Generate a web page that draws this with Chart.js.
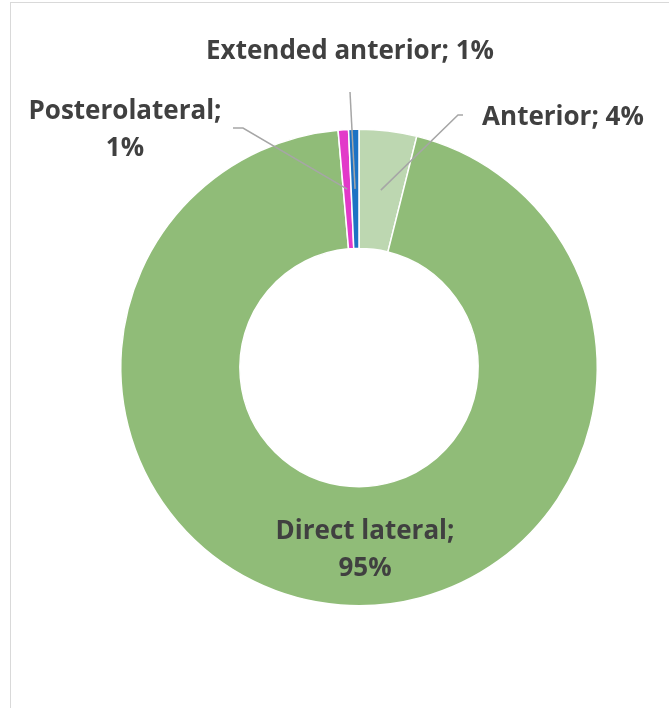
<!DOCTYPE html>
<html>
<head>
<meta charset="utf-8">
<script src="https://cdn.jsdelivr.net/npm/chart.js@4"></script>
<style>
  html, body { margin: 0; padding: 0; background: #fff; }
  #wrap { width: 669px; height: 708px; position: relative; }
</style>
</head>
<body>
<div id="wrap"><canvas id="approachChart" width="669" height="708"></canvas></div>
<script>
// data (clockwise from 12 o'clock)
const categories = ["Anterior", "Direct lateral", "Posterolateral", "Extended anterior"];
const shares = [3.9, 94.7, 0.7, 0.7];
const sliceColours = ["#BDD7B1", "#90BC78", "#E239C9", "#1D72C4"];

// where each data label sits, and where its leader line bends
const labelSpots = {
  "Anterior": { x: 563, y: 118, lines: 1, leader: [[463, 115], [458, 115]] },
  "Direct lateral": { x: 365, y: 532, lines: 2, leader: null },
  "Posterolateral": { x: 125, y: 112, lines: 2, leader: [[233, 128], [243, 128]] },
  "Extended anterior": { x: 350, y: 52, lines: 1, leader: [[350, 92]] },
};

const total = shares.reduce((a, b) => a + b, 0);

const labelPlugin = {
  id: "labelPlugin",
  beforeDraw(chart) {
    const ctx = chart.ctx;
    ctx.save();
    ctx.strokeStyle = "#D9D9D9";
    ctx.lineWidth = 1;
    ctx.strokeRect(10.5, 2.5, 720, 760);
    ctx.restore();
  },
  afterDraw(chart) {
    const ctx = chart.ctx;
    const arcs = chart.getDatasetMeta(0).data;
    ctx.save();
    // leader lines
    ctx.strokeStyle = "#A6A6A6";
    ctx.lineWidth = 1.5;
    categories.forEach((name, i) => {
      const spot = labelSpots[name];
      if (!spot.leader) return;
      const p = arcs[i].tooltipPosition();
      ctx.beginPath();
      ctx.moveTo(spot.leader[0][0], spot.leader[0][1]);
      spot.leader.slice(1).forEach(pt => ctx.lineTo(pt[0], pt[1]));
      ctx.lineTo(p.x, p.y);
      ctx.stroke();
    });
    // label text
    ctx.fillStyle = "#404040";
    ctx.font = "bold 26px 'Open Sans'";
    ctx.textAlign = "center";
    ctx.textBaseline = "middle";
    categories.forEach((name, i) => {
      const spot = labelSpots[name];
      const pct = Math.round(shares[i] / total * 100) + "%";
      if (spot.lines === 2) {
        ctx.fillText(name + ";", spot.x, spot.y);
        ctx.fillText(pct, spot.x, spot.y + 37);
      } else {
        ctx.fillText(name + "; " + pct, spot.x, spot.y);
      }
    });
    ctx.restore();
  }
};

new Chart(document.getElementById("approachChart"), {
  type: "doughnut",
  data: {
    labels: categories,
    datasets: [{
      data: shares,
      backgroundColor: sliceColours,
      borderColor: "#FFFFFF",
      borderWidth: 1.5,
    }],
  },
  options: {
    responsive: false,
    animation: false,
    cutout: "50%",
    layout: { padding: { left: 120, right: 71, top: 128, bottom: 101 } },
    plugins: {
      legend: { display: false },
      tooltip: { enabled: false },
    },
  },
  plugins: [labelPlugin],
});
</script>
</body>
</html>
